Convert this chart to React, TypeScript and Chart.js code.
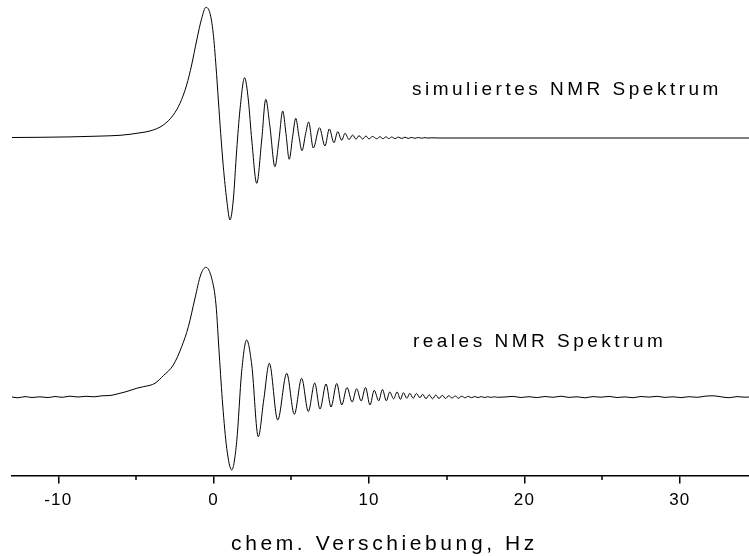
import React, { useEffect, useRef } from 'react';
import { Chart, registerables } from 'chart.js';

Chart.register(...registerables);

// ---- axis ----
const X_MIN = -12.98;
const X_MAX = 34.45;
const MAJOR_TICKS = [-10, 0, 10, 20, 30];
const MINOR_TICKS = [-5, 5, 15, 25];
const AXIS_TITLE = 'chem. Verschiebung, Hz';

// ---- labels ----
const SIM_LABEL = 'simuliertes NMR Spektrum';
const REAL_LABEL = 'reales NMR Spektrum';

// ---- simulated spectrum (Hz, intensity relative to its baseline) ----
const SIM_X = [
  -12.98, -11.18, -9.25, -7.32, -6.03, -5.39, -4.74, -4.10, -3.24, -2.60,
  -2.17, -1.74, -1.42, -1.09, -0.77, -0.50, -0.24, -0.03, 0.15, 0.30,
  0.45, 0.62, 0.84, 1.05, 1.26, 1.48, 1.69, 1.99, 2.23, 2.45,
  2.77, 3.09, 3.35, 3.62, 3.94, 4.20, 4.44, 4.65, 4.86, 5.08,
  5.28, 5.49, 5.68, 5.92, 6.11, 6.41, 6.81, 7.16, 7.44, 7.74,
  7.98, 8.24, 8.45, 8.71, 8.94, 9.16, 9.35, 9.59, 9.80, 9.99,
  10.23, 10.49, 10.70, 10.89, 11.09, 11.28, 11.45, 11.67, 11.88, 12.10,
  12.31, 12.52, 12.74, 12.95, 13.17, 13.38, 13.60, 13.79, 13.98, 14.56,
  34.45,
];
const SIM_Y = [
  0.5, 0.7, 1.1, 1.9, 2.7, 3.7, 5.2, 7, 13, 23,
  34.7, 53, 73, 98, 119.7, 130.7, 124.7, 104.7, 71.3, 38,
  4.7, -28.7, -62, -82, -62, -12, 28, 60.3, 38, -2,
  -45.3, -2, 38.7, 11.3, -28.7, -2, 27, 4.7, -21.3, 1.3,
  19.7, 1.3, -12.7, 4.7, 16, -10, 10.3, -8, 9, -4.7,
  6.3, -2.3, 4.7, -1.5, 3, -1.2, 2.3, -1.0, 2, -0.9,
  1.6, -0.8, 1.3, -0.7, 1.1, -0.6, 1.0, -0.6, 0.9, -0.5,
  0.8, -0.4, 0.6, -0.3, 0.5, -0.2, 0.4, -0.1, 0.2, 0,
  0,
];

// ---- measured spectrum ----
const REAL_X = [
  -12.98, -12.59, -12.14, -11.69, -11.18, -10.66, -10.21, -9.76, -9.25, -8.73,
  -8.22, -7.70, -7.19, -6.67, -6.16, -5.71, -5.39, -4.94, -4.53, -4.10,
  -3.78, -3.24, -2.60, -2.06, -1.63, -1.20, -0.84, -0.50, -0.13, 0.15,
  0.36, 0.58, 0.84, 1.16, 1.48, 1.80, 2.12, 2.45, 2.87, 3.22,
  3.58, 4.12, 4.70, 5.19, 5.66, 6.09, 6.50, 6.84, 7.23, 7.55,
  7.92, 8.24, 8.58, 8.91, 9.20, 9.49, 9.77, 10.06, 10.33, 10.62,
  10.86, 11.11, 11.33, 11.58, 11.80, 12.02, 12.21, 12.43, 12.62, 12.84,
  13.04, 13.28, 13.45, 13.66, 13.87, 14.08, 14.29, 14.50, 14.71, 14.92,
  15.13, 15.34, 15.55, 15.75, 15.97, 16.17, 16.38, 16.59, 16.80, 17.01,
  17.22, 17.43, 17.64, 17.84, 18.06, 18.26, 18.75, 19.26, 19.77, 20.29,
  20.80, 21.32, 21.83, 22.35, 22.86, 23.38, 23.89, 24.41, 24.92, 25.44,
  25.95, 26.47, 26.98, 27.50, 28.01, 28.53, 29.04, 29.56, 30.07, 30.59,
  31.10, 31.62, 32.13, 32.65, 33.16, 33.68, 34.19, 34.45,
];
const REAL_Y = [
  0, -0.8, 0.4, -0.5, 0.2, -0.6, 0.5, -0.3, 0.8, 0,
  0.7, 0.2, 1.2, 1.5, 3.2, 5, 6.5, 8.8, 10.3, 11.7,
  13.7, 21.3, 32, 50.3, 70.3, 99, 122, 129.7, 118.7, 92,
  42, -8, -51.3, -73, -44.7, 25.3, 57, 32, -39.7, -3,
  33.7, -23, 23.7, -17.3, 18.7, -14.5, 14, -12, 13, -10,
  13.5, -8, 9.5, -5, 8.3, -4, 9.5, -8, 6.7, -3.8,
  7.5, -3.8, 5, -1.8, 5, -2.3, 4.3, -1.3, 3.7, -1.3,
  3.5, -0.7, 2.7, -1.7, 2.2, -1.8, 2, -1.5, 1.7, -1.5,
  1.3, -1, 1, -1.2, 0.8, -0.8, 0.7, -0.7, 0.5, -0.6,
  0.4, -0.5, 0.3, -0.4, 0.2, -0.3, 0, 0.6, -0.5, 0.3,
  -0.6, 0.5, -0.3, 0.8, -0.4, 0.2, -0.8, 0.4, -0.2, 0.6,
  -0.5, 0.1, -0.7, 0.5, -0.1, 0.7, -0.4, 0.2, -0.6, 0.3,
  -0.3, 0.8, 1.2, 0.2, -0.7, 0.4, -0.2, 0,
];

// vertical stacking of the two traces (plot units)
const Y_MIN = 0;
const Y_MAX = 475.5;
const SIM_OFFSET = 337.5;
const REAL_OFFSET = 78.5;

// label anchor points in data coordinates
const SIM_LABEL_POS = { x: 12.76, y: 380.5 };
const REAL_LABEL_POS = { x: 12.82, y: 129 };

const FONT = '"Liberation Sans", Arial, sans-serif';
const AXIS_HEIGHT = 80.5;
const TITLE_BASELINE = 549.5;

export default function App() {
  const ref = useRef<HTMLCanvasElement>(null);

  useEffect(() => {
    const canvas = ref.current;
    if (!canvas) return;

    const decor = {
      id: 'decor',
      beforeDraw(chart: any) {
        chart.ctx.letterSpacing = '1.2px';
      },
      afterDraw(chart: any) {
        const ctx = chart.ctx as CanvasRenderingContext2D;
        const xs = chart.scales.x;
        const ys = chart.scales.y;
        ctx.save();
        ctx.strokeStyle = '#000';
        ctx.lineWidth = 1.5;
        MINOR_TICKS.forEach((v) => {
          const px = Math.round(xs.getPixelForValue(v));
          ctx.beginPath();
          ctx.moveTo(px, xs.top);
          ctx.lineTo(px, xs.top + 4.5);
          ctx.stroke();
        });
        ctx.fillStyle = '#000';
        ctx.textAlign = 'left';
        ctx.textBaseline = 'alphabetic';
        ctx.font = `19px ${FONT}`;
        (ctx as any).letterSpacing = '3.5px';
        ctx.fillText(SIM_LABEL, xs.getPixelForValue(SIM_LABEL_POS.x), ys.getPixelForValue(SIM_LABEL_POS.y));
        ctx.fillText(REAL_LABEL, xs.getPixelForValue(REAL_LABEL_POS.x), ys.getPixelForValue(REAL_LABEL_POS.y));
        ctx.font = `21px ${FONT}`;
        (ctx as any).letterSpacing = '3.6px';
        ctx.textAlign = 'center';
        ctx.fillText(AXIS_TITLE, (xs.left + xs.right) / 2 + 4, TITLE_BASELINE);
        ctx.restore();
      },
    };

    const chart = new Chart(canvas, {
      type: 'line',
      data: {
        datasets: [
          {
            label: SIM_LABEL,
            data: SIM_X.map((x, i) => ({ x, y: SIM_Y[i] + SIM_OFFSET })),
            borderColor: '#000',
            borderWidth: 1,
            pointRadius: 0,
            fill: false,
            cubicInterpolationMode: 'monotone',
          },
          {
            label: REAL_LABEL,
            data: REAL_X.map((x, i) => ({ x, y: REAL_Y[i] + REAL_OFFSET })),
            borderColor: '#000',
            borderWidth: 1,
            pointRadius: 0,
            fill: false,
            cubicInterpolationMode: 'monotone',
          },
        ],
      },
      options: {
        animation: false,
        responsive: false,
        events: [],
        layout: { padding: { left: 12, right: 0, top: 0, bottom: 0 } },
        plugins: { legend: { display: false }, tooltip: { enabled: false } },
        scales: {
          x: {
            type: 'linear',
            position: 'bottom',
            min: X_MIN,
            max: X_MAX,
            afterBuildTicks: (s: any) => {
              s.ticks = MAJOR_TICKS.map((v) => ({ value: v }));
            },
            afterFit: (s: any) => {
              s.height = AXIS_HEIGHT;
            },
            grid: {
              display: true,
              drawOnChartArea: false,
              drawTicks: true,
              tickLength: 8,
              color: '#000',
              lineWidth: 1.5,
            },
            border: { display: true, color: '#000', width: 1.5 },
            ticks: {
              color: '#000',
              font: { family: FONT, size: 17 },
              padding: 7,
              maxRotation: 0,
              autoSkip: false,
              callback: (v: any) => String(v),
            },
          },
          y: { display: false, min: Y_MIN, max: Y_MAX },
        },
      },
      plugins: [decor],
    } as any);

    return () => chart.destroy();
  }, []);

  return (
    <div style={{ position: 'fixed', left: 0, top: 0, width: 749, height: 556, background: '#fff' }}>
      <canvas ref={ref} width={749} height={556} style={{ display: 'block', width: 749, height: 556 }} />
    </div>
  );
}
